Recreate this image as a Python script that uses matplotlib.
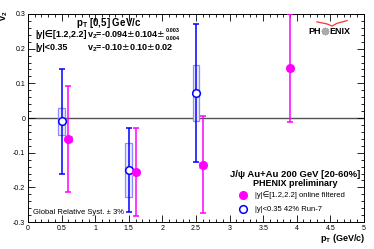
import matplotlib
matplotlib.use("Agg")
import matplotlib.pyplot as plt
from matplotlib.patches import Rectangle
from matplotlib.ticker import MultipleLocator, FixedLocator, FixedFormatter

plt.rcParams['font.family'] = ['Liberation Sans', 'DejaVu Sans']

# Data
fwd_pt = [0.6, 1.6, 2.6, 3.9]
fwd_v2 = [-0.060, -0.155, -0.135, 0.144]
fwd_stat = [0.153, 0.127, 0.140, 0.156]
fwd_sys = [0.008, 0.008, 0.008, 0.008]

mid_pt = [0.5, 1.5, 2.5]
mid_v2 = [-0.010, -0.150, 0.072]
mid_stat = [0.150, 0.120, 0.200]
mid_sys = [0.040, 0.078, 0.081]

xticks = [0, 0.5, 1, 1.5, 2, 2.5, 3, 3.5, 4, 4.5, 5]
xticklabels = ['0', '0.5', '1', '1.5', '2', '2.5', '3', '3.5', '4', '4.5', '5']
yticks = [-0.3, -0.2, -0.1, 0, 0.1, 0.2, 0.3]
yticklabels = ['-0.3', '-0.2', '-0.1', '0', '0.1', '0.2', '0.3']

BLUE = '#0000ff'
MAG = '#ff00ff'

fig = plt.figure(figsize=(3.74, 2.49), dpi=100)
ax = fig.add_axes([0.075, 0.108, 0.898, 0.836])
ax.set_xlim(0, 5)
ax.set_ylim(-0.3, 0.3)

ax.axhline(0, color='#555555', lw=1.0, zorder=1)

# systematic boxes
for x, y, s in zip(mid_pt, mid_v2, mid_sys):
    ax.add_patch(Rectangle((x - 0.05, y - s), 0.1, 2 * s, facecolor='#ececff',
                           edgecolor='#8c8cff', lw=0.9, zorder=2))
for x, y, s in zip(fwd_pt, fwd_v2, fwd_sys):
    ax.add_patch(Rectangle((x - 0.05, y - s), 0.1, 2 * s, facecolor='#ffb0ff',
                           edgecolor='#ff90ff', lw=0.8, zorder=2))

ax.errorbar(mid_pt, mid_v2, yerr=mid_stat, fmt='o', mfc='white', mec=BLUE,
            mew=1.1, ms=5.5, ecolor=BLUE, elinewidth=1.1, capsize=2.5,
            capthick=1.1, zorder=4)
ax.errorbar(fwd_pt, fwd_v2, yerr=fwd_stat, fmt='o', mfc=MAG, mec=MAG,
            ms=5.5, ecolor=MAG, elinewidth=1.1, capsize=2.5, capthick=1.1,
            zorder=4)

ax.xaxis.set_major_locator(FixedLocator(xticks))
ax.xaxis.set_major_formatter(FixedFormatter(xticklabels))
ax.yaxis.set_major_locator(FixedLocator(yticks))
ax.yaxis.set_major_formatter(FixedFormatter(yticklabels))
ax.xaxis.set_minor_locator(MultipleLocator(0.1))
ax.yaxis.set_minor_locator(MultipleLocator(0.02))
ax.tick_params(which='both', direction='in', top=True, right=True,
               labelsize=5, width=0.6, pad=2)
ax.tick_params(which='major', length=5)
ax.tick_params(which='minor', length=2.5)
for sp in ax.spines.values():
    sp.set_linewidth(0.7)

# texts
T = ax.transAxes
ax.text(0.143, 0.958, r'p$_\mathregular{T}$ [0,5] GeV/c', transform=T,
        fontsize=7, fontweight='bold', va='center', ha='left')
ax.text(0.021, 0.900, '|y|\u2208[1.2,2.2]', transform=T, fontsize=6.5,
        fontweight='bold', va='center', ha='left')
t1 = ax.text(0.176, 0.900,
             r'v$_\mathregular{2}$=-0.094$\pm$0.104$\pm$',
             transform=T, fontsize=6.5, fontweight='bold', va='center',
             ha='left')
ax.annotate('0.003', xy=(1, 0.5), xycoords=t1, xytext=(0.5, 2.8),
            textcoords='offset points', fontsize=4.0, fontweight='bold',
            ha='left', va='center')
ax.annotate('0.004', xy=(1, 0.5), xycoords=t1, xytext=(0.5, -3.0),
            textcoords='offset points', fontsize=4.0, fontweight='bold',
            ha='left', va='center')
ax.text(0.021, 0.837, '|y|<0.35', transform=T, fontsize=6.5,
        fontweight='bold', va='center', ha='left')
ax.text(0.176, 0.837, r'v$_\mathregular{2}$=-0.10$\pm$0.10$\pm$0.02',
        transform=T, fontsize=6.5, fontweight='bold', va='center', ha='left')

# PHENIX logo
ax.text(0.872, 0.918, 'PH', transform=T, fontsize=6.5,
        fontweight='bold', va='center', ha='right')
ax.text(0.896, 0.918, 'ENIX', transform=T, fontsize=6.5,
        fontweight='bold', va='center', ha='left')
ax.plot([0.884], [0.918], transform=T, marker=(12, 2, 0), ms=5.5,
        color='#aaaaaa', mew=0.8, clip_on=False, zorder=5)
ax.plot([0.86, 0.89, 0.905, 0.92, 0.95], [0.962, 0.952, 0.942, 0.955, 0.968],
        transform=T, color='#ff3030', lw=0.9)

ax.text(0.795, 0.228, 'J/\u03c8 Au+Au 200 GeV [20-60%]', transform=T,
        fontsize=6.8, fontweight='bold', va='center', ha='center')
ax.text(0.795, 0.185, 'PHENIX preliminary', transform=T,
        fontsize=6.5, fontweight='bold', va='center', ha='center')

ax.plot([0.64], [0.128], transform=T, marker='o', ms=5.5, color=MAG,
        clip_on=False)
ax.plot([0.64], [0.062], transform=T, marker='o', ms=5.5, mfc='white',
        mec=BLUE, mew=1.1, clip_on=False)
ax.text(0.676, 0.128, '|y|\u2208[1.2,2.2] online filtered', transform=T,
        fontsize=5.5, va='center', ha='left')
ax.text(0.676, 0.062, '|y|<0.35 42% Run-7', transform=T,
        fontsize=5.5, va='center', ha='left')

ax.text(0.016, 0.048, 'Global Relative Syst. \u00b1 3%', transform=T,
        fontsize=5.5, va='center', ha='left')

fig.text(0.978, 0.042, r'p$_\mathregular{T}$ (GeV/c)', fontsize=6.5,
         fontweight='bold', ha='right', va='center')
fig.text(0.012, 0.935, r'v$_\mathregular{2}$', fontsize=6.5,
         fontweight='bold', ha='center', va='center', rotation=90)

fig.savefig('out.png', dpi=100)
